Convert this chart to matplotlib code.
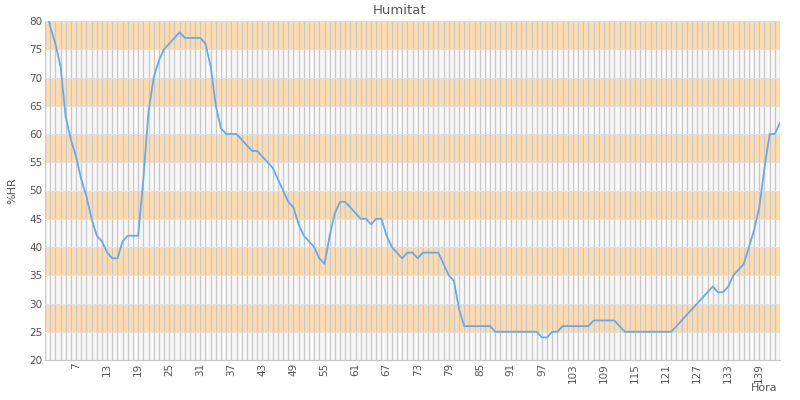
import matplotlib
matplotlib.use("Agg")
import matplotlib.pyplot as plt

# Humidity readings per hour (index 0 = hour 1)
hours = list(range(1, 144))
humidity = [
    83, 79, 76, 72, 63, 59, 56, 52, 49, 45,
    42, 41, 39, 38, 38, 41, 42, 42, 42, 52,
    64, 70, 73, 75, 76, 77, 78, 77, 77, 77,
    77, 76, 72, 65, 61, 60, 60, 60, 59, 58,
    57, 57, 56, 55, 54, 52, 50, 48, 47, 44,
    42, 41, 40, 38, 37, 42, 46, 48, 48, 47,
    46, 45, 45, 44, 45, 45, 42, 40, 39, 38,
    39, 39, 38, 39, 39, 39, 39, 37, 35, 34,
    29, 26, 26, 26, 26, 26, 26, 25, 25, 25,
    25, 25, 25, 25, 25, 25, 24, 24, 25, 25,
    26, 26, 26, 26, 26, 26, 27, 27, 27, 27,
    27, 26, 25, 25, 25, 25, 25, 25, 25, 25,
    25, 25, 26, 27, 28, 29, 30, 31, 32, 33,
    32, 32, 33, 35, 36, 37, 40, 43, 47, 54,
    60, 60, 62,
]
y_ticks = list(range(20, 85, 5))
label_step = 6

text_color = "#555555"
band_orange = "#fddcb0"
band_grey = "#f7f7f7"

fig = plt.figure(figsize=(8, 4), dpi=100)
ax = fig.add_axes([45 / 800, 40 / 400, 735 / 800, 339 / 400])

x = list(range(len(humidity)))

# alternating horizontal bands
for i, lo in enumerate(y_ticks[:-1]):
    color = band_grey if i % 2 == 0 else band_orange
    ax.axhspan(lo, lo + 5, color=color, zorder=0, lw=0)

ax.plot(x, humidity, color="#66aaee", lw=1.3, zorder=3)

ax.set_xlim(0, len(humidity) - 1)
ax.set_ylim(20, 80)

ax.set_yticks(y_ticks)
ax.set_xticks(x, minor=True)
major = x[label_step::label_step]
major = [m for m in major if m < len(humidity) - 2]
ax.set_xticks(major)
ax.set_xticklabels([str(hours[m]) for m in major], rotation=90)

ax.set_axisbelow(True)
ax.grid(which="both", axis="x", color="#c8c8c8", lw=0.9)
ax.grid(which="major", axis="y", color="#e0e0e0", lw=0.7)

ax.tick_params(which="both", length=0, labelsize=7.5, colors=text_color, pad=2)
for side in ["top", "right", "left"]:
    ax.spines[side].set_visible(False)
ax.spines["bottom"].set_color("#c8c8c8")

ax.set_ylabel("%HR", fontsize=8, color=text_color, labelpad=8)

fig.text(0.5, 1 - 10 / 400, "Humitat", ha="center", va="center",
         fontsize=9.5, color=text_color)
fig.text(778 / 800, 1 - 388 / 400, "Hora", ha="right", va="center",
         fontsize=8, color=text_color)

fig.savefig("out.png", dpi=100)
